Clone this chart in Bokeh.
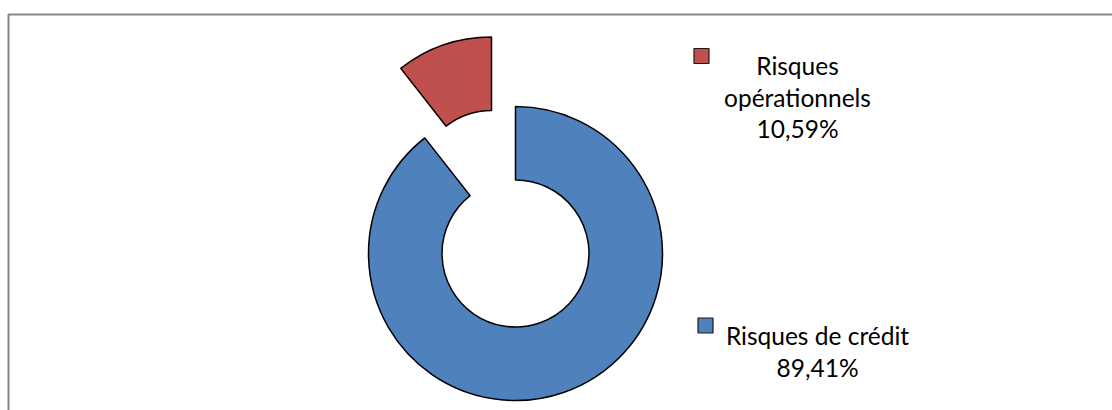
import math
from bokeh.plotting import figure
from bokeh.models import Range1d, ColumnDataSource
from bokeh.core.properties import value
from bokeh.embed import file_html
from bokeh.resources import INLINE

# ---- data ----
categories = ["Risques de crédit", "Risques opérationnels"]
shares = [89.41, 10.59]
colors = ["#4F81BD", "#C0504D"]
explode = [0.0, 0.5]

# ---- layout ----
W, H = 1112, 410
CX, CY = 515, H - 253
R_OUT, R_IN = 147, 73.5
# label anchors (center x, first baseline y in screen px) and key centres
label_pos = [(817, 335), (797, 65)]
key_pos = [(705, 325), (701, 55.5)]
LINE_H = 31.5
FONT = "Lato"
FSIZE = "24.5px"

p = figure(width=W, height=H, x_range=Range1d(0, W), y_range=Range1d(0, H),
           output_backend="svg", toolbar_location=None, min_border=0,
           outline_line_color=None, background_fill_color="white",
           border_fill_color="white")
p.axis.visible = False
p.grid.visible = False

# chart area border
p.quad(left=[8], right=[W + 20], bottom=[-20], top=[H - 14],
       fill_color=None, line_color="#878787", line_width=2)

total = sum(shares)
cum = 0.0
xs, ys, starts, ends = [], [], [], []
for v, ex in zip(shares, explode):
    a0 = 90 - (cum + v) / total * 360.0
    a1 = 90 - cum / total * 360.0
    mid = math.radians((a0 + a1) / 2)
    xs.append(CX + ex * R_OUT * math.cos(mid))
    ys.append(CY + ex * R_OUT * math.sin(mid))
    starts.append(math.radians(a0))
    ends.append(math.radians(a1))
    cum += v

src = ColumnDataSource(dict(x=xs, y=ys, start=starts, end=ends, color=colors))
p.annular_wedge(x="x", y="y", inner_radius=R_IN, outer_radius=R_OUT,
                start_angle="start", end_angle="end", fill_color="color",
                line_color="black", line_width=1.5, source=src)


def wrap(s, width=17):
    if len(s) <= width:
        return [s]
    return s.split(" ", 1)


for name, v, col, (lx, ly), (kx, ky) in zip(categories, shares, colors, label_pos, key_pos):
    lines = wrap(name) + [f"{v:.2f}".replace(".", ",") + "%"]
    p.text(x=[lx] * len(lines), y=[H - (ly + i * LINE_H) for i in range(len(lines))],
           text=lines, text_font=value(FONT), text_font_size=FSIZE,
           text_align="center", text_baseline="alphabetic", text_color="black")
    p.scatter(x=[kx], y=[H - ky], marker="square", size=15, fill_color=col,
              line_color="#1a1a1a", line_width=1.2)

open("out.html", "w").write(file_html(p, INLINE))
